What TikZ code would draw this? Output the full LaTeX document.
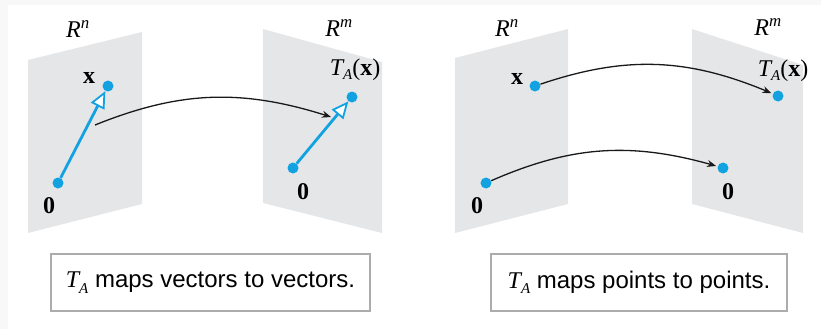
\documentclass[tikz,border=0pt]{standalone}
\usepackage{fontspec}
\setmainfont{Liberation Serif}
\setsansfont{Liberation Sans}
\usetikzlibrary{arrows.meta,positioning,calc,bending}
\definecolor{vecblue}{RGB}{18,162,226}
\definecolor{planegray}{RGB}{229,230,232}
\definecolor{boxgray}{RGB}{172,172,172}
\definecolor{edgegray}{RGB}{248,248,248}
\newcommand{\Tx}{{\itshape T}\raisebox{-0.35ex}{\fontsize{15}{15}\selectfont\itshape A}(\textbf{x})}

\begin{document}
\begin{tikzpicture}[
  x=1pt, y=-1pt,
  font=\fontsize{24}{26}\selectfont,
  >={Stealth[length=9pt,width=7pt]},
  plane/.style={fill=planegray, draw=none},
  dot/.style={circle, fill=vecblue, inner sep=0pt, minimum size=11pt},
  lbl/.style={inner sep=1pt},
  vec/.style={draw=vecblue, line width=2.8pt, shorten >=0pt,
    -{Triangle[length=17pt,width=15pt,fill=white,line width=1.8pt]}},
  maparr/.style={->, line width=1.3pt, black!90},
  caption/.style={draw=boxgray, line width=1.4pt, minimum height=57pt, inner sep=0pt,
    font=\sffamily\fontsize{24}{26}\selectfont}
]
\useasboundingbox (0,0) rectangle (821,329);
\fill[edgegray] (0,0) rectangle (821,5);
\fill[edgegray] (0,0) rectangle (8,329);

% vectors to vectors
\path[plane] (28,60) -- (142,32) -- (142,204) -- (28,233) -- cycle;
\path[plane] (263,29) -- (382,62) -- (382,233) -- (263,203) -- cycle;
\node[lbl] (rn1) at (78,29) {\itshape R\textsuperscript{n}};
\node[lbl] (rm1) at (339,28) {\itshape R\textsuperscript{m}};
\node[dot] (o1) at (58,183) {};
\node[dot] (x1) at (108,86) {};
\node[dot] (o2) at (293,168) {};
\node[dot] (t2) at (352,97) {};
\node[lbl] (xl1) at (89,78) {\textbf{x}};
\node[lbl] (ol1) at (49,206) {\textbf{0}};
\node[lbl] (ol2) at (303,192) {\textbf{0}};
\node[lbl] (tl2) at (355,70) {\Tx};
\draw[vec] (o1) -- (x1);
\draw[vec] (o2) -- (t2);
\coordinate (c1s) at (95,125);
\coordinate (c1e) at (331,117);
\draw[maparr] (c1s) to[bend left=20] (c1e);

% points to points
\path[plane] (455,58) -- (568,29) -- (568,204) -- (455,233) -- cycle;
\path[plane] (692,29) -- (803,65) -- (803,233) -- (692,204) -- cycle;
\node[lbl] (rn2) at (507,28) {\itshape R\textsuperscript{n}};
\node[lbl] (rm2) at (768,27) {\itshape R\textsuperscript{m}};
\node[dot] (x3) at (535,86) {};
\node[dot] (t4) at (778,96) {};
\node[dot] (o3) at (486,183) {};
\node[dot] (o4) at (723,168) {};
\node[lbl] (xl3) at (517,79) {\textbf{x}};
\node[lbl] (tl4) at (783,71) {\Tx};
\node[lbl] (ol3) at (477,206) {\textbf{0}};
\node[lbl] (ol4) at (728,192) {\textbf{0}};
\draw[maparr, shorten >=1.5pt] (x3) to[bend left=21] (t4);
\draw[maparr, shorten >=1.5pt] (o3) to[bend left=20] (o4);

\node[caption, minimum width=319pt] (cap1) at (210.5,282.5)
  {{\rmfamily\itshape T\raisebox{-0.5ex}{\fontsize{15}{15}\selectfont A}} maps vectors to vectors.};
\node[caption, minimum width=296pt] (cap2) at (639,282.5)
  {{\rmfamily\itshape T\raisebox{-0.5ex}{\fontsize{15}{15}\selectfont A}} maps points to points.};
\end{tikzpicture}
\end{document}
